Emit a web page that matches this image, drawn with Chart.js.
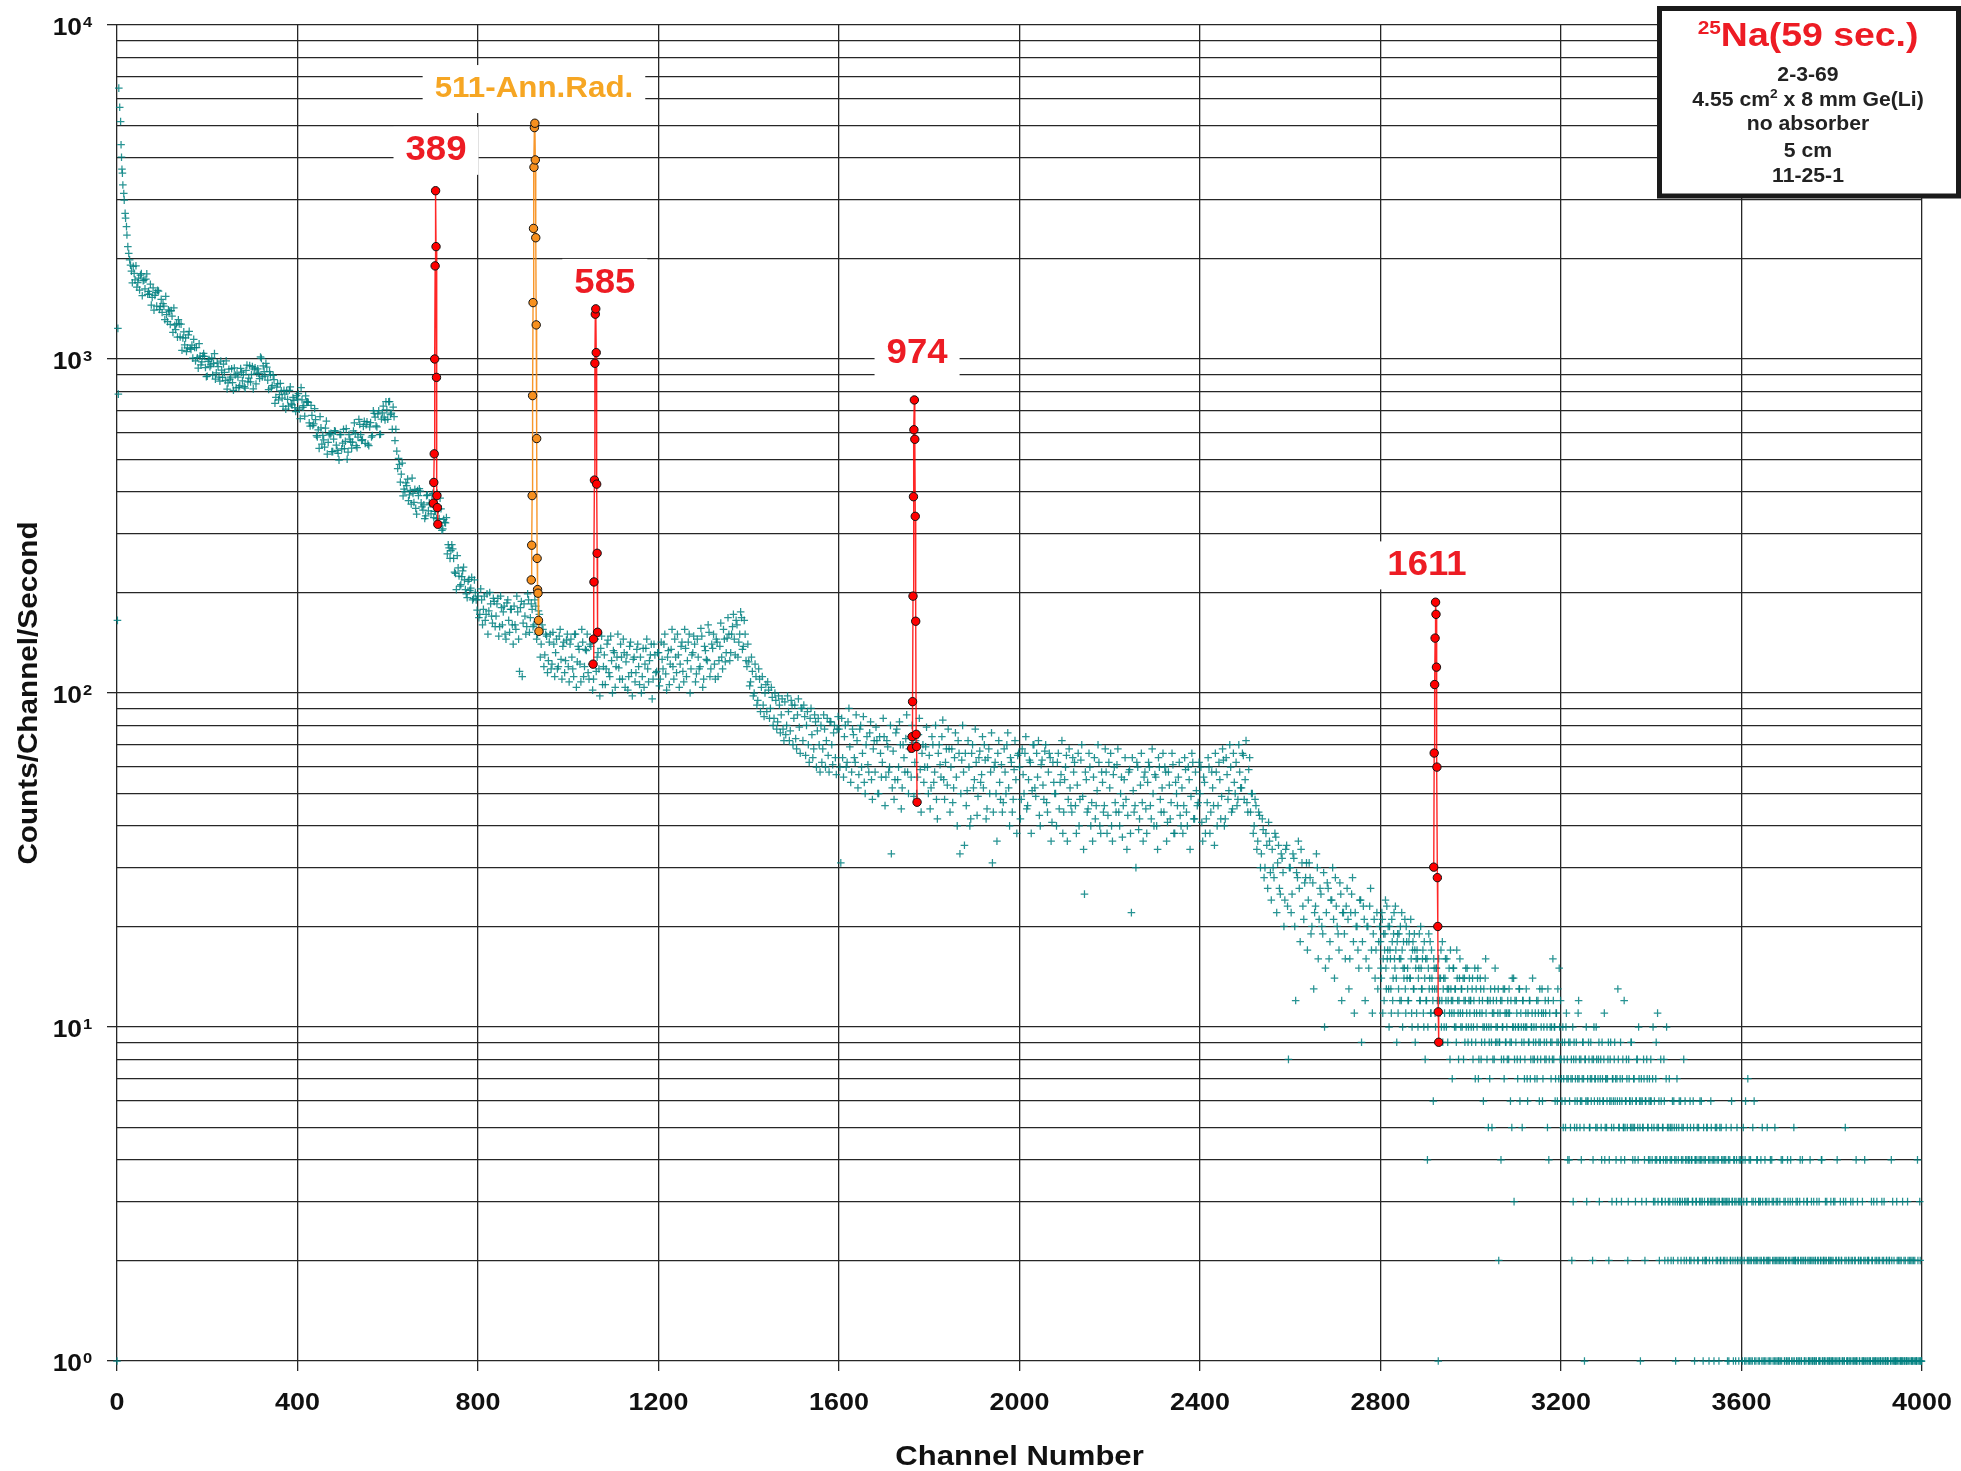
<!DOCTYPE html>
<html>
<head>
<meta charset="utf-8">
<script src="https://cdn.jsdelivr.net/npm/chart.js@4.4.1/dist/chart.umd.min.js"></script>
<style>
html,body{margin:0;padding:0;background:#ffffff;overflow:hidden;}
canvas{display:block;}
</style>
</head>
<body>
<canvas id="chart" width="1961" height="1471"></canvas>
<script>
// ================= DATA =================
const xTickValues = [0,400,800,1200,1600,2000,2400,2800,3200,3600,4000];
const yDecades = [1,10,100,1000,10000];
const yGridValues = [1,2,3,4,5,6,7,8,9,10,20,30,40,50,60,70,80,90,100,200,300,400,500,600,700,800,900,1000,2000,3000,4000,5000,6000,7000,8000,9000,10000];

// first channels (explicit)
const headChannels = [0,1,2,3,4,6,8,9,10,11,12,13,15,16,18,19,21,22,24,26,28,30];
const headCounts   = [1,165,1235,785,6470,5670,5140,4380,4020,3700,3600,3320,3130,2990,2730,2640,2490,2350,2170,2070,1980,1910];

// background spectrum: set A (channels 32,36,... / 2800,2802,...) and set B (channels 34,38,... / 2801,2803,...)
const counts_0032 = [
1833,1894,1725,1640,1747,1784,1547,1724,1733,1562,
1564,1451,1632,1550,1440,1598,1436,1378,1439,1540,
1293,1391,1397,1201,1262,1275,1311,1164,1062,1206,
1156,1080,1210,1068,1006,1082,1082,939,1020,980,
1039,943,888,996,960,895,1038,909,948,858,
926,966,862,813,932,882,850,940,820,883,
832,913,898,818,959,876,854,949,932,842,
934,874,1004,953,888,945,810,898,833,867,
768,843,782,803,721,785,803,722,825,729,
752,696];
const counts_0034 = [
1691,1805,1901,1693,1609,1801,1717,1622,1799,1594,
1675,1529,1401,1581,1605,1406,1509,1465,1311,1358,
1403,1269,1343,1422,1224,1163,1274,1272,1156,1102,
1053,1181,1077,1101,1145,987,1009,1111,960,1020,
1019,885,984,948,1007,970,870,974,883,986,
881,912,988,848,870,935,806,896,907,822,
937,860,827,924,854,956,899,814,941,906,
907,1014,884,916,970,864,917,818,893,737,
824,755,845,764,806,708,757,806,734,767,
715,777];
const counts_0400 = [
758,708,821,717,674,744,742,630,678,639,
658,584,540,622,591,545,652,563,593,528,
576,608,533,498,594,560,539,619,526,576,
541,609,597,543,660,594,574,651,636,556,
626,584,700,670,626,700,595,690,670,745,
660,746,688,718,570,530,504,428,488,408,
426,437,392,368,396,407,343,390,402,361,
366,339,392,371,344,396,350,333,354,383,
307,331,323,261,272,267,270,230,204,237,
209,223,238,204,193,219,206,190,218,190];
const counts_0402 = [
788,663,755,725,776,744,644,726,632,710,
590,614,672,556,573,621,519,597,599,528,
610,552,522,594,538,616,567,501,594,564,
564,644,550,584,637,570,628,559,649,550,
645,590,687,631,685,594,661,723,657,704,
745,682,616,672,616,470,484,452,389,401,
418,377,404,440,372,357,404,409,371,353,
333,390,351,368,391,335,350,396,333,356,
310,324,335,278,253,278,253,228,258,224,
211,232,218,198,216,203,222,192,200,177];
const counts_0800 = [
195,172,190,178,165,198,176,185,162,188,
170,192,158,180,175,150,186,165,178,160,
182,155,175,116,188,162,170,158,190,168,
178,160,182,150,172,140,155,130,148,125,
150,122,140,132,118,148,126,138,115,144,
120,140,128,112,150,124,135,108,142,120,
134,115,140,122,110,145,128,118,136,106,
130,118,144,112,125,134,104,128,119,140,
110,132,124,102,138,115,126,108,135,120,
128,112,104,136,118,125,140,110,130,116];
const counts_0802 = [
168,205,160,195,172,150,200,170,192,158,
185,148,195,160,182,145,190,152,178,140,
160,195,145,180,112,185,150,198,152,185,
158,190,145,176,128,160,120,150,115,142,
118,152,112,145,120,155,110,142,125,150,
108,145,118,150,104,138,122,155,112,135,
150,110,138,102,145,116,132,98,148,120,
106,140,115,148,100,132,120,150,110,128,
145,104,130,112,142,98,128,115,140,106,
100,136,122,145,108,130,96,140,115,132];
const counts_1200 = [
132,110,126,140,114,128,106,135,120,145,
115,130,122,142,108,136,125,150,118,132,
140,114,128,120,148,110,134,125,152,118,
136,122,145,112,138,128,155,124,146,150,
132,158,145,165,128,150,168,138,150,120,
124,108,116,100,112,95,110,104,92,100,
88,102,90,97,84,95,82,92,86,78,
94,80,88,77,92,84,73,86,79,90,
72,85,80,70,84,75,68,82,77,70,
80,68,78,72,65,82,70,76,64,78];
const counts_1202 = [
105,142,118,150,102,134,122,155,110,128,
150,104,138,116,155,112,142,100,130,148,
108,145,118,156,104,138,126,160,112,140,
150,110,142,125,162,118,145,132,168,125,
150,172,130,160,142,175,135,165,125,140,
105,128,98,122,92,118,88,112,85,106,
108,84,104,80,100,78,98,76,96,72,
75,98,72,95,70,92,68,96,66,90,
92,65,88,62,90,64,86,60,84,58,
62,86,60,84,58,82,61,80,57,85];
const counts_1600 = [
78,31,64,74,60,82,69,58,75,62,
72,57,80,66,54,70,61,76,55,68,
58,72,50,66,62,74,56,69,60,33,
67,55,78,60,70,52,64,73,58,68,
56,71,62,50,75,59,66,54,69,60,
65,52,70,58,48,66,61,74,55,62,
53,68,60,47,64,56,72,33,63,58,
66,51,60,42,70,55,62,49,67,57,
52,63,45,68,58,31,60,50,66,54,
61,47,58,70,52,64,44,59,55,65];
const counts_1602 = [
60,84,56,80,62,90,54,78,64,86,
52,78,60,85,50,74,58,82,48,72,
79,50,74,56,84,46,72,58,80,52,
48,76,55,82,45,70,58,86,50,74,
80,49,72,56,84,44,70,60,79,50,
45,74,54,80,42,70,56,83,48,68,
78,44,68,52,76,40,66,50,80,35,
46,72,40,66,52,78,43,64,54,74,
70,42,64,50,76,44,62,36,72,48,
44,68,50,76,40,62,48,72,38,66];
const counts_2000 = [
60,48,57,66,45,55,62,51,70,49,
56,43,61,53,67,47,58,64,41,54,
50,62,45,57,38,55,65,48,52,44,
58,46,53,40,63,49,25,55,45,60,
47,56,42,51,62,38,54,46,58,43,
52,40,57,47,61,44,50,37,55,48,
43,59,22,51,46,62,39,53,47,56,
45,54,60,42,50,57,40,64,48,52,
44,58,41,53,47,61,38,50,56,43,
52,46,59,40,55,49,62,42,51,47];
const counts_2002 = [
42,68,50,74,46,63,38,70,52,66,
72,40,63,48,70,44,66,36,62,50,
40,66,54,72,44,60,36,68,46,64,
62,38,66,48,70,34,58,44,66,40,
36,64,46,70,40,58,44,68,38,62,
66,36,60,44,68,40,56,46,64,34,
58,38,64,44,30,60,42,66,36,58,
38,62,46,68,40,56,34,60,44,66,
60,36,58,42,66,38,54,46,62,40,
38,64,44,60,34,66,42,58,46,62];
const counts_2400 = [
50,41,56,38,47,60,44,52,35,58,
46,55,49,63,42,57,51,60,45,54,
62,48,58,52,65,55,47,59,44,50,
40,46,36,43,33,39,30,35,41,29,
34,28,37,31,26,33,29,24,35,8,
30,25,32,12,28,26,34,23,27,31,
24,28,20,13,23,30,21,25,19,10,
22,26,18,24,21,28,20,17,25,22,
19,23,21,16,25,18,22,20,15,24,
18,21,16,20,23,17,19,14,22,18];
const counts_2402 = [
60,36,54,42,64,38,58,46,66,40,
62,42,68,40,64,48,70,44,66,50,
46,70,52,66,48,72,44,64,50,38,
48,34,44,30,42,28,38,26,36,24,
30,38,22,35,25,32,20,34,23,30,
22,33,20,29,36,18,31,21,28,17,
31,19,27,22,33,16,26,20,29,15,
27,16,24,30,14,23,19,27,12,22,
16,26,13,22,28,11,20,17,24,9,
23,12,20,15,26,11,21,17,13,20];
const counts_2800 = [
18,14,21,16,12,19,15,23,17,13,
20,16,11,18,14,22,15,17,9,19,
13,16,20,12,17,15,14,21,11,18,
15,12,19,14,16,10,18,13,17,15,
11,16,14,19,12,15,13,17,10,14,
16,12,4,15,13,18,11,14,12,16,
13,10,15,12,1,14,11,17,12,9,
14,11,16,10,13,12,15,8,13,11,
12,15,10,13,9,14,11,12,16,10,
13,11,8,14,12,10,15,9,12,11];
const counts_2801 = [
15,22,11,19,17,24,13,16,20,10,
17,13,21,12,19,16,23,14,18,11,
19,12,16,22,10,18,15,13,20,14,
12,18,14,21,11,17,13,19,9,16,
17,10,15,12,20,13,16,11,18,8,
12,16,10,19,14,11,17,13,6,15,
11,15,13,9,16,12,14,10,18,13,
10,14,12,16,9,13,11,17,12,7,
15,11,13,10,17,12,8,14,11,13,
10,14,12,9,15,11,13,10,14,12];
const counts_3000 = [
12,9,14,10,11,7,13,10,15,8,
11,13,9,12,6,10,14,11,8,12,
10,7,13,9,11,12,8,15,10,9,
11,2,9,12,8,10,13,7,11,9,
10,12,8,11,6,9,14,10,3,12,
9,11,7,10,13,8,10,5,12,9,
8,11,10,6,9,12,7,10,11,8,
10,7,9,12,8,11,6,9,10,13,
7,10,8,11,9,5,12,8,10,7,
9,16,8,10,7,11,6,9,15,8];
const counts_3001 = [
10,13,8,12,15,9,11,14,7,12,
14,8,11,10,13,9,16,10,12,5,
9,12,10,5,8,11,13,9,12,10,
13,9,11,4,12,10,8,13,9,11,
8,11,13,9,12,5,10,14,8,10,
12,8,10,13,6,11,9,12,10,7,
10,13,7,11,9,12,8,10,14,9,
8,11,10,7,12,9,13,8,11,6,
11,9,12,8,10,13,4,11,9,10,
8,12,10,6,11,9,13,7,10,12];
const counts_3200 = [
8,6,10,7,9,5,11,8,7,4,
9,7,2,10,8,5,7,9,6,11,
7,5,8,6,9,7,1,8,10,6,
6,8,5,9,7,2,8,6,7,10,
5,7,9,6,8,4,7,6,11,5,
7,6,8,2,6,9,5,7,6,8,
6,4,7,13,5,6,9,3,7,5,
12,5,6,7,2,8,6,5,9,6,
5,7,4,6,8,5,10,6,1,7,
6,5,7,2,6,8,5,4,7,6];
const counts_3201 = [
7,9,5,8,6,10,7,4,9,6,
5,8,7,3,9,6,8,5,7,12,
8,6,4,7,9,5,8,6,3,7,
9,5,7,6,8,4,10,7,5,8,
6,8,3,7,5,9,6,8,4,7,
5,7,9,4,8,6,3,7,5,9,
7,3,6,8,5,7,4,6,8,5,
4,6,8,5,3,7,6,9,5,4,
7,5,3,6,8,4,7,5,6,3,
5,8,4,6,3,7,5,6,4,8];
const counts_3400 = [
6,4,10,5,3,7,4,11,5,2,
4,6,3,5,8,2,4,10,5,3,
7,4,2,5,3,6,4,1,5,3,
4,6,3,2,5,4,8,3,4,2,
5,3,4,6,2,4,3,5,1,4,
3,5,2,4,6,3,4,2,5,3,
4,2,5,3,1,4,6,3,2,4,
3,5,2,4,3,1,5,2,4,3,
2,4,3,5,2,3,1,4,2,6,
3,1,4,2,3,5,2,1,3,4];
const counts_3401 = [
5,7,3,6,4,9,5,3,6,4,
8,3,5,4,6,3,7,4,2,5,
3,5,4,6,2,5,3,4,7,2,
5,3,6,4,3,5,2,6,3,4,
3,4,2,5,4,3,6,2,4,3,
4,2,5,3,4,6,3,1,4,2,
2,5,3,4,2,3,5,4,3,1,
4,3,5,2,4,3,2,5,3,4,
3,2,4,3,1,4,3,2,5,3,
2,4,3,1,4,2,3,4,2,3];
const counts_3600 = [
3,1,5,2,4,1,3,7,2,1,
4,2,1,3,6,2,1,4,2,3,
1,3,2,5,1,2,4,1,3,2,
2,1,4,0,3,1,2,5,1,2,
3,1,2,1,4,2,0,3,1,2,
1,4,2,1,3,0,2,1,5,2,
2,1,3,2,1,4,1,2,0,3,
1,2,0,3,1,2,4,1,2,1,
3,1,2,1,0,2,3,1,2,4,
1,2,1,3,2,0,1,2,1,3];
const counts_3601 = [
2,4,3,1,6,3,2,1,4,2,
1,3,5,2,1,3,2,4,1,3,
2,4,1,3,2,1,3,2,5,1,
3,2,1,4,2,3,1,2,3,1,
2,1,3,2,1,4,2,1,3,2,
1,3,1,2,4,1,3,2,1,2,
3,1,2,1,3,2,1,4,2,1,
2,1,3,2,1,1,2,3,1,2,
1,2,1,3,2,1,1,2,4,1,
2,1,2,1,3,1,2,1,2,1];
const counts_3800 = [
2,1,3,0,1,2,4,1,2,1,
0,2,1,3,1,5,2,0,1,2,
1,3,0,2,1,1,2,4,1,0,
2,1,2,0,3,1,1,2,0,1,
1,2,0,1,3,2,1,0,2,1,
3,0,1,2,1,0,2,1,3,1,
1,2,1,0,2,1,4,1,0,2,
0,1,3,1,2,0,1,2,1,1,
2,1,0,1,3,1,2,0,1,2,
1,0,2,1,1,4,0,1,2,1];
const counts_3801 = [
1,2,1,3,2,1,0,2,1,3,
2,1,0,1,2,3,1,1,2,0,
1,2,1,3,0,2,1,1,3,2,
1,0,2,1,1,2,4,1,0,2,
2,1,1,0,2,1,3,1,1,2,
1,2,0,1,1,3,1,2,0,1,
2,1,1,2,0,1,2,3,1,1,
1,1,2,0,1,2,1,1,3,0,
1,2,1,1,2,0,1,2,1,1,
2,1,0,1,1,2,1,3,1,1];

const segmentStartChannels = [32,34,400,402,800,802,1200,1202,1600,1602,2000,2002,2400,2402,
                              2800,2801,3000,3001,3200,3201,3400,3401,3600,3601,3800,3801];
const segmentChannelSteps  = [4,4,4,4,4,4,4,4,4,4,4,4,4,4,2,2,2,2,2,2,2,2,2,2,2,2];
const segmentCounts = [counts_0032,counts_0034,counts_0400,counts_0402,counts_0800,counts_0802,
                       counts_1200,counts_1202,counts_1600,counts_1602,counts_2000,counts_2002,
                       counts_2400,counts_2402,counts_2800,counts_2801,counts_3000,counts_3001,
                       counts_3200,counts_3201,counts_3400,counts_3401,counts_3600,counts_3601,
                       counts_3800,counts_3801];

// photo-peaks
const peak389Channels  = [701,702,703,704,705,706,707,708,709,710,711];
const peak389Counts    = [370,427,520,1000,1900,3190,2170,881,390,359,320];
const peak511Channels  = [918,919,920,921,922,923,924,925,926,927,928,929,930,931,932,933,934,935];
const peak511Counts    = [218,277,390,777,1475,2460,3750,4930,5080,3945,2307,1265,578,253,204,199,165,153];
const peak585Channels  = [1055,1056,1057,1058,1059,1060,1061,1062,1063,1064,1065];
const peak585Counts    = [122,145,215,434,971,1362,1413,1045,422,262,152];
const peak974Channels  = [1761,1762,1763,1764,1765,1766,1767,1768,1769,1770,1771,1772,1773];
const peak974Counts    = [68.3,74,94.2,195,387,614,754,575,338,164,75.2,69.1,47.1];
const peak1611Channels = [2918,2919,2920,2921,2922,2923,2924,2925,2926,2927,2928,2929];
const peak1611Counts   = [30.1,66.1,106,146,187,172,119.5,60,28,20,11.1,9.0];

const peakLabelTexts = ['389','511-Ann.Rad.','585','974','1611'];
const infoTitleSup = '25';
const infoTitle = 'Na(59 sec.)';
const infoLines = ['2-3-69','4.55 cm|2| x 8 mm Ge(Li)','no absorber','5 cm','11-25-1'];
const xAxisTitle = 'Channel Number';
const yAxisTitle = 'Counts/Channel/Second';

// ================= BUILD =================
const bgPoints = [];
headChannels.forEach((c, i) => { if (headCounts[i] > 0) bgPoints.push({x: c, y: headCounts[i]}); });
segmentCounts.forEach((arr, s) => {
  arr.forEach((v, i) => {
    if (v > 0) bgPoints.push({x: segmentStartChannels[s] + i * segmentChannelSteps[s], y: v});
  });
});
const toPts = (chs, cts) => chs.map((c, i) => ({x: c, y: cts[i]}));

const RED = '#ED1C24', ORANGE_TXT = '#F6A623';
function peakDataset(chs, cts, lineColor, fillColor) {
  return {
    data: toPts(chs, cts), showLine: true, borderColor: lineColor, borderWidth: 1.4,
    pointRadius: 4.2, pointBackgroundColor: fillColor, pointBorderColor: '#111', pointBorderWidth: 1,
    pointStyle: 'circle', clip: false, order: 0
  };
}
const TEAL = 'rgba(0,128,128,0.85)';
const datasets = [
  peakDataset(peak389Channels, peak389Counts, 'rgba(255,0,0,0.85)', '#FF0000'),
  peakDataset(peak511Channels, peak511Counts, 'rgba(247,140,20,0.9)', '#F7901E'),
  peakDataset(peak585Channels, peak585Counts, 'rgba(255,0,0,0.85)', '#FF0000'),
  peakDataset(peak974Channels, peak974Counts, 'rgba(255,0,0,0.85)', '#FF0000'),
  peakDataset(peak1611Channels, peak1611Counts, 'rgba(255,0,0,0.85)', '#FF0000'),
  {
    data: bgPoints, showLine: false, pointStyle: 'cross', pointRadius: 3.8,
    pointBorderColor: TEAL, borderColor: TEAL,
    pointBorderWidth: 1.25, pointBackgroundColor: TEAL, clip: false, order: 1
  }
];

// label anchors (channel / count positions on the plot)
const labelAnchors = [
  {text: peakLabelTexts[0], channel: 707,  value: 4200, size: 35, color: RED},
  {text: peakLabelTexts[1], channel: 924,  value: 6430, size: 30, color: ORANGE_TXT},
  {text: peakLabelTexts[2], channel: 1081, value: 1690, size: 35, color: RED},
  {text: peakLabelTexts[3], channel: 1773, value: 1042, size: 35, color: RED},
  {text: peakLabelTexts[4], channel: 2903, value: 241,  size: 35, color: RED}
];

const FONT = '"Liberation Sans", Arial, Helvetica, sans-serif';
function measure(ctx, s, size, stretch) {
  ctx.save(); ctx.font = 'bold ' + size + 'px ' + FONT;
  const w = ctx.measureText(s).width * stretch; ctx.restore(); return w;
}
function drawText(ctx, s, x, y, size, color, align, baseline, stretch) {
  ctx.save();
  ctx.font = 'bold ' + size + 'px ' + FONT;
  ctx.textBaseline = baseline; ctx.textAlign = 'left'; ctx.fillStyle = color;
  const w = ctx.measureText(s).width * stretch;
  const left = align === 'center' ? x - w / 2 : (align === 'right' ? x - w : x);
  ctx.translate(left, y); ctx.scale(stretch, 1); ctx.fillText(s, 0, 0);
  ctx.restore();
  return w;
}
const isDecade = v => Math.abs(Math.log10(v) - Math.round(Math.log10(v))) < 1e-9;

const decorPlugin = {
  id: 'decor',
  beforeDatasetsDraw(chart) {
    const ctx = chart.ctx, xs = chart.scales.x, ys = chart.scales.y;
    labelAnchors.forEach(a => {
      const px = xs.getPixelForValue(a.channel), py = ys.getPixelForValue(a.value);
      const w = measure(ctx, a.text, a.size, 1.045);
      ctx.save(); ctx.fillStyle = '#ffffff';
      ctx.fillRect(px - w / 2 - 12, py - 24, w + 24, 48);
      ctx.restore();
      drawText(ctx, a.text, px, py, a.size, a.color, 'center', 'middle', 1.045);
    });
  },
  afterDraw(chart) {
    const ctx = chart.ctx, xs = chart.scales.x, ys = chart.scales.y, ca = chart.chartArea;
    const ink = '#111111';
    xTickValues.forEach(v => {
      drawText(ctx, String(v), xs.getPixelForValue(v), ca.bottom + 49, 24, ink, 'center', 'alphabetic', 1.12);
    });
    yDecades.forEach(v => {
      const py = ys.getPixelForValue(v);
      const e = String(Math.round(Math.log10(v)));
      drawText(ctx, '10', ca.left - 35, py + 10, 24, ink, 'right', 'alphabetic', 1.1);
      drawText(ctx, e, ca.left - 34, py + 2, 15, ink, 'left', 'alphabetic', 1.1);
    });
    drawText(ctx, xAxisTitle, (ca.left + ca.right) / 2, ca.bottom + 104, 27, ink, 'center', 'alphabetic', 1.15);
    ctx.save();
    ctx.translate(37, (ca.top + ca.bottom) / 2);
    ctx.rotate(-Math.PI / 2);
    drawText(ctx, yAxisTitle, 0, 0, 27, ink, 'center', 'alphabetic', 1.1);
    ctx.restore();
    // info box
    ctx.save();
    ctx.fillStyle = '#ffffff'; ctx.fillRect(1659, 8, 300, 188);
    ctx.lineWidth = 5; ctx.strokeStyle = '#1a1a1a'; ctx.strokeRect(1659.5, 8.5, 299, 187.5);
    ctx.restore();
    const cx = 1808;
    const wSup = measure(ctx, infoTitleSup, 19, 1.1), wMain = measure(ctx, infoTitle, 34, 1.1);
    const left = cx - (wSup + wMain) / 2;
    drawText(ctx, infoTitleSup, left, 34, 19, RED, 'left', 'alphabetic', 1.1);
    drawText(ctx, infoTitle, left + wSup, 46, 34, RED, 'left', 'alphabetic', 1.1);
    const baselines = [81, 106, 130, 157, 182];
    infoLines.forEach((line, i) => {
      const parts = line.split('|');
      if (parts.length === 1) {
        drawText(ctx, line, cx, baselines[i], 20, '#222', 'center', 'alphabetic', 1.06);
      } else {
        const w0 = measure(ctx, parts[0], 20, 1.06), w1 = measure(ctx, parts[1], 13, 1.06), w2 = measure(ctx, parts[2], 20, 1.06);
        const l = cx - (w0 + w1 + w2) / 2;
        drawText(ctx, parts[0], l, baselines[i], 20, '#222', 'left', 'alphabetic', 1.06);
        drawText(ctx, parts[1], l + w0, baselines[i] - 8, 13, '#222', 'left', 'alphabetic', 1.06);
        drawText(ctx, parts[2], l + w0 + w1, baselines[i], 20, '#222', 'left', 'alphabetic', 1.06);
      }
    });
  }
};

const GRID = '#262626';
new Chart(document.getElementById('chart').getContext('2d'), {
  type: 'scatter',
  data: { datasets },
  options: {
    responsive: false, animation: false, devicePixelRatio: 1, events: [],
    layout: { padding: { left: 0, right: 39, top: 25, bottom: 0 } },
    plugins: { legend: { display: false }, tooltip: { enabled: false } },
    scales: {
      x: {
        type: 'linear', min: 0, max: 4000,
        afterBuildTicks: s => { s.ticks = xTickValues.map(v => ({ value: v })); },
        afterFit: s => { s.height = 110; },
        grid: { color: GRID, lineWidth: 1.3, drawTicks: true, tickLength: 10, tickColor: GRID, tickWidth: 1.3 },
        border: { display: false },
        ticks: { display: false }
      },
      y: {
        type: 'logarithmic', min: 1, max: 10000,
        afterBuildTicks: s => { s.ticks = yGridValues.map(v => ({ value: v })); },
        afterFit: s => { s.width = 117; },
        grid: {
          color: GRID, lineWidth: 1.3, drawTicks: true, tickLength: 10, tickWidth: 1.3,
          tickColor: c => (c.tick && isDecade(c.tick.value)) ? GRID : 'rgba(0,0,0,0)'
        },
        border: { display: false },
        ticks: { display: false }
      }
    }
  },
  plugins: [decorPlugin]
});
</script>
</body>
</html>
